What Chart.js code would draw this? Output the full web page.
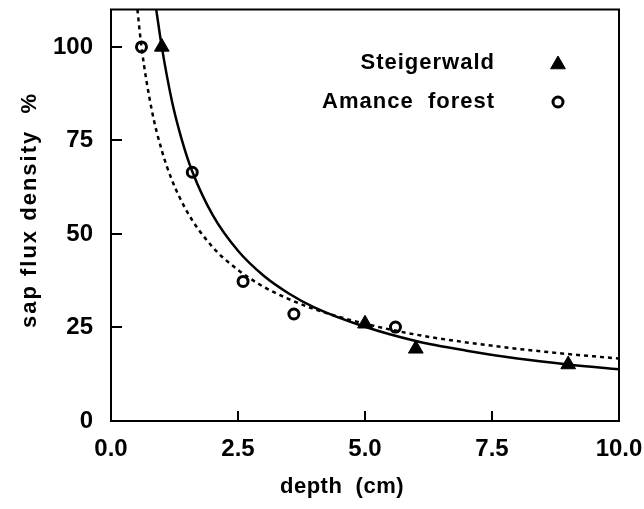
<!DOCTYPE html>
<html>
<head>
<meta charset="utf-8">
<script src="https://cdn.jsdelivr.net/npm/chart.js@4.4.1/dist/chart.umd.min.js"></script>
<style>
  html, body { margin: 0; padding: 0; background: #fff; }
  #wrap { width: 644px; height: 509px; position: relative; }
</style>
</head>
<body>
<div id="wrap"><canvas id="c" width="644" height="509"></canvas></div>
<script>
// ---- data ----
const steigerDepth = [1.0, 5.0, 6.0, 9.0];
const steigerFlux  = [100, 26.0, 19.3, 15.1];
const amanceDepth  = [0.6, 1.6, 2.6, 3.6, 5.6];
const amanceFlux   = [100, 66.5, 37.3, 28.6, 25.1];

// fitted curves
const steigerFitDepth = [0.89, 1.0, 1.2, 1.4, 1.6, 2.0, 2.5, 3.0, 3.5, 4.0, 5.0, 6.0, 7.0, 8.0, 9.0, 10.0];
const steigerFitFlux  = [110, 100, 85.5, 74.9, 66.7, 55.1, 45.5, 38.9, 34.1, 30.4, 25.2, 21.4, 18.8, 16.7, 15.1, 13.8];
const amanceFitDepth  = [0.52, 0.6, 0.8, 1.0, 1.2, 1.5, 2.0, 2.5, 3.0, 3.5, 4.0, 5.0, 6.0, 7.0, 8.0, 9.0, 10.0];
const amanceFitFlux   = [110, 100, 83.3, 72.3, 64.4, 55.9, 46.5, 40.4, 35.9, 32.6, 29.9, 26.0, 23.1, 21.0, 19.3, 17.9, 16.7];

const xTickValues = [0, 2.5, 5, 7.5, 10];
const yTickValues = [0, 25, 50, 75, 100];

const legendLabels = ['Steigerwald', 'Amance  forest'];
const xTitle = 'depth  (cm)';
const yTitle = 'sap flux density  %';

const FONT = '"Liberation Sans", Arial, Helvetica, sans-serif';
const toXY = (xs, ys) => xs.map((x, i) => ({ x: x, y: ys[i] }));

const noPad = s => { s.paddingTop = 0; s.paddingBottom = 0; s.paddingLeft = 0; s.paddingRight = 0; };

const framePlugin = {
  id: 'frame',
  afterDraw(chart) {
    const ctx = chart.ctx;
    const a = chart.chartArea;
    const xs = chart.scales.x, ys = chart.scales.y;
    ctx.save();
    ctx.strokeStyle = '#000';
    ctx.lineWidth = 2;
    ctx.strokeRect(a.left, a.top, a.right - a.left, a.bottom - a.top);
    // inward ticks
    ctx.beginPath();
    xTickValues.forEach(v => {
      const px = Math.round(xs.getPixelForValue(v));
      ctx.moveTo(px, a.bottom);
      ctx.lineTo(px, a.bottom - 10);
    });
    yTickValues.forEach(v => {
      const py = Math.round(ys.getPixelForValue(v));
      ctx.moveTo(a.left, py);
      ctx.lineTo(a.left + 11, py);
    });
    ctx.stroke();

    // axis titles
    ctx.fillStyle = '#000';
    ctx.font = 'bold 22px ' + FONT;
    ctx.textAlign = 'center';
    ctx.textBaseline = 'middle';
    try { ctx.letterSpacing = '0.5px'; } catch (e) {}
    ctx.fillText(xTitle, 342, 487);
    ctx.save();
    ctx.translate(30, 210);
    ctx.rotate(-Math.PI / 2);
    try { ctx.letterSpacing = '2px'; } catch (e) {}
    ctx.fillText(yTitle, 0, 0);
    ctx.restore();

    // legend text
    try { ctx.letterSpacing = '1px'; } catch (e) {}
    ctx.font = 'bold 22px ' + FONT;
    ctx.textAlign = 'right';
    const rows = [63, 102];
    legendLabels.forEach((t, i) => {
      ctx.fillText(t, 495, rows[i]);
    });
    try { ctx.letterSpacing = '0px'; } catch (e) {}
    ctx.restore();

    // legend markers (filled triangle, open circle)
    ctx.save();
    ctx.fillStyle = '#000';
    ctx.strokeStyle = '#000';
    ctx.lineWidth = 1;
    Chart.helpers.drawPoint(ctx, { pointStyle: 'triangle', radius: 8.5, borderWidth: 1 }, 558, rows[0] + 1.5);
    ctx.fillStyle = '#fff';
    ctx.lineWidth = 3;
    Chart.helpers.drawPoint(ctx, { pointStyle: 'circle', radius: 5, borderWidth: 3 }, 558, rows[1]);
    ctx.restore();
  }
};

new Chart(document.getElementById('c'), {
  type: 'line',
  data: {
    datasets: [
      {
        label: 'Steigerwald fit',
        data: toXY(steigerFitDepth, steigerFitFlux),
        borderColor: '#000', borderWidth: 2.5,
        pointRadius: 0, cubicInterpolationMode: 'monotone', fill: false
      },
      {
        label: 'Amance fit',
        data: toXY(amanceFitDepth, amanceFitFlux),
        borderColor: '#000', borderWidth: 2.5, borderDash: [4, 4],
        pointRadius: 0, cubicInterpolationMode: 'monotone', fill: false
      },
      {
        label: 'Steigerwald',
        data: toXY(steigerDepth, steigerFlux),
        showLine: false, pointStyle: 'triangle', pointRadius: 8.5,
        pointBackgroundColor: '#000', pointBorderColor: '#000', pointBorderWidth: 1
      },
      {
        label: 'Amance forest',
        data: toXY(amanceDepth, amanceFlux),
        showLine: false, pointStyle: 'circle', pointRadius: 5,
        pointBackgroundColor: '#fff', pointBorderColor: '#000', pointBorderWidth: 3
      }
    ]
  },
  options: {
    responsive: false,
    animation: false,
    devicePixelRatio: 1,
    layout: { padding: { left: 0, top: 7, right: 25, bottom: 0 } },
    plugins: { legend: { display: false }, tooltip: { enabled: false } },
    scales: {
      x: {
        type: 'linear', min: 0, max: 10,
        grid: { display: false, drawTicks: false },
        border: { display: false },
        afterBuildTicks: s => { s.ticks = xTickValues.map(v => ({ value: v })); },
        afterFit: s => { s.height = 88; noPad(s); },
        ticks: {
          color: '#000', padding: 14,
          font: { family: FONT, size: 24, weight: 'bold' },
          maxRotation: 0,
          callback: v => Number(v).toFixed(1)
        }
      },
      y: {
        type: 'linear', min: 0, max: 110,
        grid: { display: false, drawTicks: false },
        border: { display: false },
        afterBuildTicks: s => { s.ticks = yTickValues.map(v => ({ value: v })); },
        afterFit: s => { s.width = 111; noPad(s); },
        ticks: {
          color: '#000', padding: 18,
          font: { family: FONT, size: 24, weight: 'bold' },
          callback: v => String(v)
        }
      }
    }
  },
  plugins: [framePlugin]
});
</script>
</body>
</html>
